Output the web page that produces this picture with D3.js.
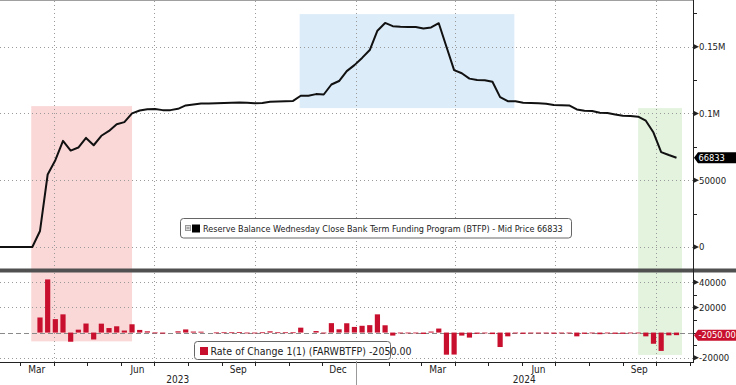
<!DOCTYPE html>
<html>
<head>
<meta charset="utf-8">
<script src="https://cdn.jsdelivr.net/npm/d3@7"></script>
<style>
  body { margin: 0; background: #fff; }
  svg text { font-family: "Liberation Sans Narrow", "Arial Narrow", "DejaVu Sans Condensed", sans-serif; }
</style>
</head>
<body>
<div id="chart"></div>
<script>
// weekly BTFP balance ($mn), one point per week starting at startWeek
var startWeek = "2023-02-05";
var balance = [0, 0, 0, 0, 0, 0,
  12000, 54300, 65000, 79500, 72200, 74500, 81700, 76200, 83300, 86900,
  91900, 93500, 100100, 102200, 103200, 103300, 102500, 102500, 103500, 106000,
  106800, 107500, 107500, 107600, 107800, 108000, 108300, 108000, 107600, 107800,
  108800, 109000, 109200, 109400, 113300, 113300, 114500, 114200, 121700, 124300,
  131700, 136200, 141600, 147500, 162000, 167800, 165400, 165000, 164800, 164700,
  163600, 164400, 167600, 150000, 132500, 130100, 126100, 125100, 124900, 123700,
  112200, 109200, 109100, 108100, 107900, 107600, 107300, 106400, 106200, 106000,
  103000, 102000, 101800, 100500, 100300, 99300, 98300, 98100, 97600, 94600,
  85700, 71100, 68883, 66833];

// rate of change 1(1), weekly
var change = [0, 0, 0, 0, 0, 0,
  12000, 42300, 10700, 14500, -7300, 2300, 7200, -5500, 7100, 3600,
  5000, 1600, 6600, 2100, 1000, 100, -800, 0, 1000, 2500,
  800, 700, 0, 100, 200, 200, 300, -300, -400, 200,
  1000, 200, 200, 200, 3900, 0, 1200, -300, 7500, 2600,
  7400, 4500, 5400, 5900, 14500, 5800, -2400, -400, -200, -100,
  -1100, 800, 3200, -17600, -17500, -2400, -4000, -1000, -200, -1200,
  -11500, -3000, -100, -1000, -200, -300, -300, -900, -200, -200,
  -3000, -1000, -200, -1300, -200, -1000, -1000, -200, -500, -3000,
  -8900, -14600, -2200, -2050];

var lastBalance = "66833";
var lastChange = "-2050.00";

// highlighted periods (top value / base value in upper panel, low value in lower panel)
var shadeStart = ["2023-03-11", "2023-11-11", "2024-09-15"];
var shadeEnd = ["2023-06-11", "2024-05-25", "2024-10-25"];
var shadeTop = [105500, 174400, 104000];
var shadeBase = [null, 104000, null];
var shadeLow = [-7000, null, -17800];

var topTicks = [0, 50000, 100000, 150000];
var topTickLabels = ["0", "50000", "0.1M", "0.15M"];
var topMinor = [25000, 75000, 125000, 175000];
var botTicks = [40000, 20000, -20000];
var botTickLabels = ["40000", "20000", "-20000"];
var botMinor = [30000, 10000, 0, -10000];
var years = ["2023", "2024"];

var legendTop = "Reserve Balance Wednesday Close Bank Term Funding Program (BTFP) - Mid Price 66833";
var legendBot = "Rate of Change 1(1) (FARWBTFP) -2050.00";

// layout
var W = 736, H = 385, plotR = 693;
var topY0 = 0, topY1 = 269, botY0 = 272, botY1 = 362;
var shadeColors = ["#fbd8d8", "#dcecf9", "#e3f3de"];
var red = "#c8102e";

var parse = d3.utcParse("%Y-%m-%d");
var t0 = parse(startWeek);
var dates = balance.map(function(d, i) { return d3.utcWeek.offset(t0, i); });

var x = d3.scaleUtc()
  .domain([parse("2023-03-19"), parse("2024-10-20")])
  .range([40, 676.5]);
var yTop = d3.scaleLinear().domain([0, 150000]).range([247, 46.7]);
var yBot = d3.scaleLinear().domain([-20000, 40000]).range([357.7, 282.3]);

var svg = d3.select("#chart").append("svg")
  .attr("width", W)
  .attr("height", H);

var defs = svg.append("defs");
defs.append("clipPath").attr("id", "clipTop")
  .append("rect").attr("x", 0).attr("y", topY0).attr("width", plotR).attr("height", topY1 - topY0);
defs.append("clipPath").attr("id", "clipBot")
  .append("rect").attr("x", 0).attr("y", botY0).attr("width", plotR).attr("height", botY1 - botY0);

// shading
shadeStart.forEach(function(s, i) {
  var x0 = x(parse(s)), x1 = x(parse(shadeEnd[i]));
  var yb = shadeBase[i] === null ? topY1 : yTop(shadeBase[i]);
  svg.append("rect")
    .attr("x", x0).attr("y", yTop(shadeTop[i]))
    .attr("width", x1 - x0).attr("height", yb - yTop(shadeTop[i]))
    .attr("fill", shadeColors[i]);
  if (shadeLow[i] !== null) {
    svg.append("rect")
      .attr("x", x0).attr("y", botY0)
      .attr("width", x1 - x0).attr("height", yBot(shadeLow[i]) - botY0)
      .attr("fill", shadeColors[i]);
  }
});

// gridlines
var grid = svg.append("g")
  .attr("stroke", "#9a9a9a")
  .attr("stroke-width", 1)
  .attr("stroke-dasharray", "1,3");

var quarters = d3.utcMonths(parse("2023-04-01"), parse("2024-11-01"), 3);
quarters.forEach(function(q) {
  var xx = Math.round(x(q)) + 0.5;
  grid.append("line").attr("x1", xx).attr("x2", xx).attr("y1", topY0 + 1).attr("y2", topY1);
  grid.append("line").attr("x1", xx).attr("x2", xx).attr("y1", botY0 + 1).attr("y2", botY1);
});
topTicks.forEach(function(v) {
  var yy = Math.round(yTop(v)) + 0.5;
  grid.append("line").attr("x1", 0).attr("x2", plotR).attr("y1", yy).attr("y2", yy);
});
botTicks.forEach(function(v) {
  var yy = Math.round(yBot(v)) + 0.5;
  grid.append("line").attr("x1", 0).attr("x2", plotR).attr("y1", yy).attr("y2", yy);
});

// zero line in lower panel
svg.append("line")
  .attr("x1", 0).attr("x2", plotR)
  .attr("y1", Math.round(yBot(0)) + 0.5).attr("y2", Math.round(yBot(0)) + 0.5)
  .attr("stroke", "#8a8a8a")
  .attr("stroke-dasharray", "5,3");

// balance line
var line = d3.line()
  .x(function(d, i) { return x(dates[i]); })
  .y(function(d) { return yTop(d); });

svg.append("path")
  .datum(balance)
  .attr("clip-path", "url(#clipTop)")
  .attr("d", line)
  .attr("fill", "none")
  .attr("stroke", "#111")
  .attr("stroke-width", 2)
  .attr("stroke-linejoin", "round");

// rate of change bars
var bars = change.map(function(v, i) { return { date: dates[i], value: v }; })
  .filter(function(d) { return d.value !== 0; });

svg.append("g")
  .attr("clip-path", "url(#clipBot)")
  .selectAll("rect")
  .data(bars)
  .enter().append("rect")
  .attr("x", function(d) { return x(d.date) - 2.6; })
  .attr("width", 5.2)
  .attr("y", function(d) { return Math.min(yBot(d.value), yBot(0)); })
  .attr("height", function(d) { return Math.max(0.8, Math.abs(yBot(d.value) - yBot(0))); })
  .attr("fill", red);

// frame
svg.append("line")
  .attr("x1", 0).attr("x2", plotR).attr("y1", 0.5).attr("y2", 0.5)
  .attr("stroke", "#a0a0a0");
svg.append("rect")
  .attr("x", 0).attr("y", 268.5).attr("width", W).attr("height", 4)
  .attr("fill", "#505050");
svg.append("line")
  .attr("x1", plotR + 0.5).attr("x2", plotR + 0.5).attr("y1", 0).attr("y2", botY1)
  .attr("stroke", "#222");
svg.append("line")
  .attr("x1", 0).attr("x2", plotR + 1).attr("y1", botY1 + 0.5).attr("y2", botY1 + 0.5)
  .attr("stroke", "#222");

// right axes
function rightAxis(scale, ticks, labels, minor) {
  var g = svg.append("g");
  ticks.forEach(function(v, i) {
    var yy = scale(v);
    g.append("path")
      .attr("d", "M" + (plotR + 1) + "," + (yy - 2.5) + "L" + (plotR + 6) + "," + yy + "L" + (plotR + 1) + "," + (yy + 2.5) + "Z")
      .attr("fill", "#222");
    g.append("text")
      .attr("x", plotR + 6)
      .attr("y", yy)
      .attr("dy", "0.35em")
      .attr("font-size", "9.5px")
      .attr("fill", "#222")
      .text(labels[i]);
  });
  minor.forEach(function(v) {
    var yy = Math.round(scale(v)) + 0.5;
    g.append("line")
      .attr("x1", plotR).attr("x2", plotR + 4)
      .attr("y1", yy).attr("y2", yy)
      .attr("stroke", "#222");
  });
}
rightAxis(yTop, topTicks, topTickLabels, topMinor);
rightAxis(yBot, botTicks, botTickLabels, botMinor);

// value tags
function tag(yy, label, fill) {
  svg.append("path")
    .attr("d", "M" + (plotR + 1) + "," + yy + "L" + (plotR + 5) + "," + (yy - 5.5) + "L" + W + "," + (yy - 5.5) +
      "L" + W + "," + (yy + 5.5) + "L" + (plotR + 5) + "," + (yy + 5.5) + "Z")
    .attr("fill", fill);
  svg.append("text")
    .attr("x", plotR + 5.5)
    .attr("y", yy)
    .attr("dy", "0.35em")
    .attr("font-size", "9.2px")
    .attr("fill", "#fff")
    .text(label);
}
tag(yTop(balance[balance.length - 1]), lastBalance, "#000");
tag(yBot(change[change.length - 1]), lastChange, red);

// bottom time axis
var xAxis = svg.append("g");
d3.utcMonth.range(parse("2023-03-01"), parse("2024-11-02")).forEach(function(m) {
  var xx = Math.round(x(m)) + 0.5;
  var isYear = m.getUTCMonth() === 0;
  xAxis.append("line")
    .attr("x1", xx).attr("x2", xx)
    .attr("y1", botY1).attr("y2", isYear ? H : botY1 + 4)
    .attr("stroke", isYear ? "#999" : "#222");
});
d3.utcMonths(parse("2023-03-01"), parse("2024-10-01"), 3).forEach(function(m) {
  xAxis.append("text")
    .attr("x", x(d3.utcDay.offset(m, 15)))
    .attr("y", 369)
    .attr("dy", "0.35em")
    .attr("text-anchor", "middle")
    .attr("font-size", "10px")
    .attr("fill", "#222")
    .text(d3.utcFormat("%b")(m));
});
var yearSplit = x(parse("2024-01-01"));
var yearMid = [yearSplit / 2, (yearSplit + plotR) / 2];
years.forEach(function(y, i) {
  xAxis.append("text")
    .attr("x", yearMid[i])
    .attr("y", 379.5)
    .attr("dy", "0.35em")
    .attr("text-anchor", "middle")
    .attr("font-size", "10px")
    .attr("fill", "#222")
    .text(y);
});

// legends
var lg1 = svg.append("g");
lg1.append("rect")
  .attr("x", 180.5).attr("y", 218.5).attr("width", 391).attr("height", 19.5)
  .attr("rx", 3)
  .attr("fill", "#fff")
  .attr("stroke", "#666");
lg1.append("rect")
  .attr("x", 185.5).attr("y", 225.5).attr("width", 5).attr("height", 5)
  .attr("fill", "#ddd").attr("stroke", "#999");
lg1.append("line")
  .attr("x1", 186.5).attr("x2", 189.5).attr("y1", 228).attr("y2", 228)
  .attr("stroke", "#777");
lg1.append("rect")
  .attr("x", 192).attr("y", 224.5).attr("width", 8).attr("height", 8)
  .attr("fill", "#000");
lg1.append("text")
  .attr("x", 203).attr("y", 228.5)
  .attr("dy", "0.35em")
  .attr("font-size", "9px")
  .attr("fill", "#222")
  .text(legendTop);

var lg2 = svg.append("g");
lg2.append("rect")
  .attr("x", 194.5).attr("y", 341.5).attr("width", 196).attr("height", 18)
  .attr("rx", 3)
  .attr("fill", "#fff")
  .attr("stroke", "#666");
lg2.append("rect")
  .attr("x", 200).attr("y", 347).attr("width", 8).attr("height", 8)
  .attr("fill", red);
lg2.append("text")
  .attr("x", 210.5).attr("y", 351)
  .attr("dy", "0.35em")
  .attr("font-size", "10.5px")
  .attr("fill", "#222")
  .text(legendBot);
</script>
</body>
</html>
